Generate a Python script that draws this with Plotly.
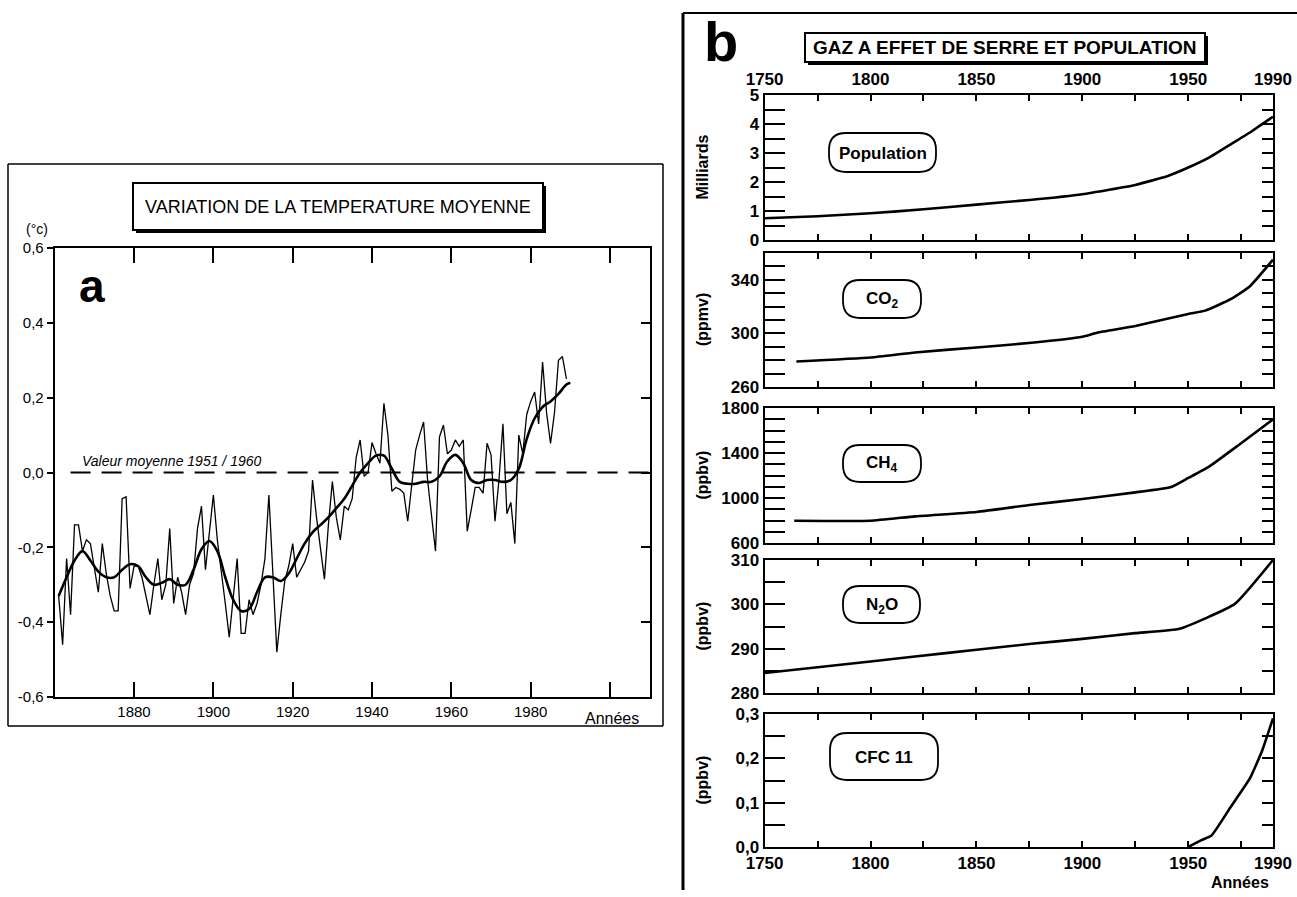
import plotly.graph_objects as go

# ---------------- DATA ----------------
# Panel a : global mean temperature anomaly (deg C), annual values
temp_years = list(range(1861, 1990))
temp_values = [
    -0.33, -0.46, -0.23, -0.38, -0.14, -0.14, -0.21, -0.18, -0.19, -0.26,   # 1861-1870
    -0.32, -0.19, -0.27, -0.33, -0.37, -0.37, -0.07, -0.065, -0.31, -0.25,  # 1871-1880
    -0.25, -0.28, -0.33, -0.38, -0.30, -0.23, -0.34, -0.30, -0.15, -0.35,   # 1881-1890
    -0.28, -0.32, -0.38, -0.30, -0.27, -0.15, -0.09, -0.26, -0.16, -0.06,   # 1891-1900
    -0.18, -0.26, -0.35, -0.44, -0.33, -0.23, -0.43, -0.43, -0.34, -0.38,   # 1901-1910
    -0.35, -0.30, -0.23, -0.06, -0.27, -0.48, -0.38, -0.29, -0.25, -0.19,   # 1911-1920
    -0.28, -0.26, -0.24, -0.21, -0.02, -0.12, -0.20, -0.285, -0.14, -0.024, # 1921-1930
    -0.12, -0.18, -0.09, -0.10, -0.07, 0.04, 0.087, -0.01, 0.0, 0.08,       # 1931-1940
    0.05, 0.025, 0.185, 0.10, -0.05, -0.04, -0.045, -0.055, -0.13, -0.04,   # 1941-1950
    0.06, 0.10, 0.135, -0.02, -0.12, -0.21, 0.095, 0.127, 0.05, 0.06,       # 1951-1960
    0.087, 0.07, 0.087, -0.157, -0.10, -0.04, -0.04, -0.055, 0.078, 0.047,  # 1961-1970
    -0.13, -0.02, 0.13, -0.11, -0.08, -0.19, 0.10, 0.05, 0.155, 0.19,       # 1971-1980
    0.215, 0.13, 0.295, 0.16, 0.078, 0.16, 0.30, 0.31, 0.25,                # 1981-1989
]
smooth_years = [1861, 1863, 1865, 1867, 1869, 1871, 1873, 1875, 1877, 1879,
                1881, 1883, 1885, 1887, 1889, 1891, 1893, 1895, 1897, 1899,
                1901, 1903, 1905, 1907, 1909, 1911, 1913, 1915, 1917, 1919,
                1921, 1923, 1925, 1927, 1929, 1931, 1933, 1935, 1937, 1939,
                1941, 1943, 1945, 1947, 1949, 1951, 1953, 1955, 1957, 1959,
                1961, 1963, 1965, 1967, 1969, 1971, 1973, 1975, 1977, 1979,
                1981, 1983, 1985, 1987, 1989, 1990]
smooth_values = [-0.33, -0.28, -0.235, -0.21, -0.235, -0.265, -0.28, -0.28, -0.26, -0.245,
                 -0.25, -0.28, -0.30, -0.295, -0.285, -0.30, -0.30, -0.26, -0.205, -0.183,
                 -0.21, -0.28, -0.34, -0.37, -0.365, -0.32, -0.28, -0.28, -0.29, -0.27,
                 -0.23, -0.19, -0.16, -0.14, -0.12, -0.095, -0.07, -0.035, 0.0, 0.025,
                 0.045, 0.045, 0.01, -0.025, -0.03, -0.03, -0.025, -0.025, -0.01, 0.03,
                 0.047, 0.025, -0.02, -0.028, -0.02, -0.02, -0.025, -0.02, 0.01, 0.09,
                 0.145, 0.175, 0.19, 0.21, 0.235, 0.24]
ref_years = [1864, 2010]
ref_values = [0.0, 0.0]

temp_ticks = [-0.6, -0.4, -0.2, 0.0, 0.2, 0.4, 0.6]
temp_ticktext = ["-0,6", "-0,4", "-0,2", "0,0", "0,2", "0,4", "0,6"]
temp_xticks = [1880, 1900, 1920, 1940, 1960, 1980]
temp_xticktext = ["1880", "1900", "1920", "1940", "1960", "1980"]
temp_xminor = [2000]

# Panel b : greenhouse gases and population
pop_years = [1750, 1775, 1800, 1825, 1850, 1875, 1900, 1925, 1940, 1950, 1960, 1970, 1980, 1990]
pop_values = [0.75, 0.82, 0.92, 1.06, 1.22, 1.38, 1.58, 1.90, 2.2, 2.5, 2.85, 3.3, 3.75, 4.25]
co2_years = [1765, 1800, 1821, 1850, 1876, 1900, 1907, 1925, 1950, 1958, 1970, 1979, 1990]
co2_values = [279, 282, 285.8, 289.5, 293, 297.5, 300.5, 305.5, 314.5, 317, 325.5, 335, 355]
ch4_years = [1764, 1800, 1821, 1850, 1876, 1900, 1925, 1942, 1950, 1960, 1974, 1990]
ch4_values = [798, 798, 837, 876, 940, 991, 1050, 1098, 1178, 1281, 1474, 1700]
n2o_years = [1750, 1800, 1821, 1850, 1876, 1900, 1925, 1946, 1972, 1990]
n2o_values = [284.5, 287.1, 288.25, 289.75, 291.1, 292.2, 293.5, 294.5, 300.1, 310]
cfc_years = [1950, 1956, 1961, 1970, 1979, 1985, 1990]
cfc_values = [0.0, 0.015, 0.026, 0.09, 0.154, 0.219, 0.29]

gas_xticks = [1750, 1800, 1850, 1900, 1950, 1990]
gas_xticktext = ["1750", "1800", "1850", "1900", "1950", "1990"]

# ---------------- LAYOUT HELPERS ----------------
W, H = 1297, 897
FONT = "Liberation Sans, Arial, sans-serif"


def X(x):
    return x / W


def Y(y):
    return 1 - y / H


fig = go.Figure()
shapes = []
annotations = []


def line(x0, y0, x1, y1, w=2):
    shapes.append(dict(type="line", xref="paper", yref="paper",
                       x0=X(x0), y0=Y(y0), x1=X(x1), y1=Y(y1),
                       line=dict(color="black", width=w)))


def text(x, y, s, size=15, bold=False, italic=False, angle=0, xanchor="center"):
    annotations.append(dict(xref="paper", yref="paper", x=X(x), y=Y(y), text=s,
                            showarrow=False, textangle=angle, xanchor=xanchor, yanchor="middle",
                            font=dict(family=FONT, size=size, color="black",
                                      weight="bold" if bold else "normal",
                                      style="italic" if italic else "normal")))


def shadow_box(x0, y0, x1, y1):
    shapes.append(dict(type="rect", xref="paper", yref="paper",
                       x0=X(x0 + 3), y0=Y(y1 + 3), x1=X(x1 + 3), y1=Y(y0 + 3),
                       fillcolor="black", line=dict(width=0)))
    shapes.append(dict(type="rect", xref="paper", yref="paper",
                       x0=X(x0), y0=Y(y1), x1=X(x1), y1=Y(y0),
                       fillcolor="white", line=dict(color="black", width=2)))


def round_box(x0, y0, x1, y1, r=16):
    pts = (f"M {X(x0 + r)},{Y(y0)} L {X(x1 - r)},{Y(y0)} Q {X(x1)},{Y(y0)} {X(x1)},{Y(y0 + r)} "
           f"L {X(x1)},{Y(y1 - r)} Q {X(x1)},{Y(y1)} {X(x1 - r)},{Y(y1)} "
           f"L {X(x0 + r)},{Y(y1)} Q {X(x0)},{Y(y1)} {X(x0)},{Y(y1 - r)} "
           f"L {X(x0)},{Y(y0 + r)} Q {X(x0)},{Y(y0)} {X(x0 + r)},{Y(y0)} Z")
    shapes.append(dict(type="path", xref="paper", yref="paper", path=pts,
                       fillcolor="white", line=dict(color="black", width=1.8)))


layout = dict(template="none", width=W, height=H,
              margin=dict(l=0, r=0, t=0, b=0, pad=0, autoexpand=False), autosize=False,
              paper_bgcolor="white", plot_bgcolor="rgba(0,0,0,0)", showlegend=False,
              font=dict(family=FONT, color="black"))

# ---------------- PANEL A ----------------
ax_x0, ax_x1 = 54.7, 649.7
ay_top, ay_bot = 248, 697
layout["xaxis"] = dict(domain=[X(ax_x0), X(ax_x1)], range=[1860, 2010], anchor="y",
                       tickmode="array", tickvals=temp_xticks, ticktext=temp_xticktext,
                       ticks="inside", ticklen=15, tickwidth=2, tickcolor="black",
                       minor=dict(tickmode="array", tickvals=temp_xminor, ticks="inside",
                                  ticklen=15, tickwidth=2, tickcolor="black", showgrid=False),
                       showline=True, linewidth=2, linecolor="black", mirror="ticks",
                       showgrid=False, zeroline=False, automargin=False,
                       tickfont=dict(size=15, family=FONT))
layout["yaxis"] = dict(domain=[Y(ay_bot), Y(ay_top)], range=[-0.6, 0.6], anchor="x",
                       tickmode="array", tickvals=temp_ticks, ticktext=temp_ticktext,
                       ticks="outside", ticklen=6, tickwidth=2, tickcolor="black",
                       showline=True, linewidth=2, linecolor="black", mirror=True,
                       showgrid=False, zeroline=False, automargin=False,
                       tickfont=dict(size=15, family=FONT))
layout["yaxis2"] = dict(overlaying="y", side="right", anchor="x", range=[-0.6, 0.6],
                        tickmode="array", tickvals=temp_ticks, ticks="inside", ticklen=9,
                        tickwidth=2, tickcolor="black", showticklabels=False,
                        showline=False, showgrid=False, zeroline=False, automargin=False)

fig.add_trace(go.Scatter(x=ref_years, y=ref_values, mode="lines", xaxis="x", yaxis="y",
                         line=dict(color="black", width=2, dash="20px,11px"), hoverinfo="skip"))
fig.add_trace(go.Scatter(x=temp_years, y=temp_values, mode="lines", xaxis="x", yaxis="y",
                         line=dict(color="black", width=1.3), hoverinfo="skip"))
fig.add_trace(go.Scatter(x=smooth_years, y=smooth_values, mode="lines", xaxis="x", yaxis="y",
                         line=dict(color="black", width=2.6, shape="spline", smoothing=1.0),
                         hoverinfo="skip"))
fig.add_trace(go.Scatter(x=[None], y=[None], xaxis="x", yaxis="y2", hoverinfo="skip"))

# frame of panel a
line(8, 164, 663, 164, 1.5)
line(8, 164, 8, 726, 1.5)
line(8, 726, 663, 726, 1.5)
line(663, 164, 663, 726, 1.5)
shadow_box(133, 183, 543, 230)
text(338, 207, "VARIATION DE LA TEMPERATURE MOYENNE", size=18)
text(37, 229, "(°c)", size=14)
text(92, 286, "a", size=46, bold=True)
text(80, 461, "Valeur moyenne 1951 / 1960", size=14, italic=True, xanchor="left")
text(612, 718, "Années", size=16)

# ---------------- PANEL B ----------------
bx0, bx1 = 764.6, 1273
panels = [
    ("Population", pop_years, pop_values, (95, 240), [0, 5], [0, 1, 2, 3, 4, 5],
     ["0", "1", "2", "3", "4", "5"], 0.5, "Milliards", (829, 133, 936, 172)),
    ("CO<sub>2</sub>", co2_years, co2_values, (253, 387), [260, 360], [260, 300, 340],
     ["260", "300", "340"], 10, "(ppmv)", (843, 280, 921, 318)),
    ("CH<sub>4</sub>", ch4_years, ch4_values, (408, 543), [600, 1800], [600, 1000, 1400, 1800],
     ["600", "1000", "1400", "1800"], 100, "(ppbv)", (843, 445, 921, 482)),
    ("N<sub>2</sub>O", n2o_years, n2o_values, (560, 693), [280, 310], [280, 290, 300, 310],
     ["280", "290", "300", "310"], 5, "(ppbv)", (843, 586, 920, 623)),
    ("CFC 11", cfc_years, cfc_values, (714, 847), [0, 0.3], [0, 0.1, 0.2, 0.3],
     ["0,0", "0,1", "0,2", "0,3"], 0.05, "(ppbv)", (830, 733, 938, 780)),
]

for i, (label, xs, ys, (ytop, ybot), yr, yt, ytt, ydt, ytitle, box) in enumerate(panels):
    xn = i + 2
    yn = i + 3
    yo = i + 8
    first = i == 0
    last = i == len(panels) - 1
    layout[f"xaxis{xn}"] = dict(
        domain=[X(bx0), X(bx1)], range=[1750, 1990], anchor=f"y{yn}",
        tickmode="array", tickvals=gas_xticks, ticktext=gas_xticktext, ticks="inside",
        ticklen=6, tickwidth=2, tickcolor="black",
        minor=dict(tick0=1750, dtick=25, ticks="inside", ticklen=6, tickwidth=2,
                   tickcolor="black", showgrid=False),
        showline=True, linewidth=2, linecolor="black", mirror="ticks", showgrid=False,
        zeroline=False, side="top" if first else "bottom", automargin=False,
        showticklabels=first or last, ticklabelstandoff=1 if first else 0,
        tickfont=dict(size=17, family=FONT, weight="bold"))
    layout[f"yaxis{yn}"] = dict(
        domain=[Y(ybot), Y(ytop)], range=yr, anchor=f"x{xn}",
        tickmode="array", tickvals=yt, ticktext=ytt, ticks="inside", ticklen=20, tickwidth=2,
        tickcolor="black",
        minor=dict(tick0=yr[0], dtick=ydt, ticks="inside", ticklen=20, tickwidth=2,
                   tickcolor="black", showgrid=False),
        showline=True, linewidth=2, linecolor="black", mirror=True, showgrid=False,
        zeroline=False, automargin=False,
        tickfont=dict(size=17, family=FONT, weight="bold"))
    layout[f"yaxis{yo}"] = dict(
        overlaying=f"y{yn}", side="right", anchor=f"x{xn}", range=yr,
        tickmode="array", tickvals=yt, ticks="inside", ticklen=11, tickwidth=2,
        tickcolor="black",
        minor=dict(tick0=yr[0], dtick=ydt, ticks="inside", ticklen=11, tickwidth=2,
                   tickcolor="black", showgrid=False),
        showticklabels=False, showline=False, showgrid=False, zeroline=False,
        automargin=False)
    fig.add_trace(go.Scatter(x=xs, y=ys, mode="lines", xaxis=f"x{xn}", yaxis=f"y{yn}",
                             line=dict(color="black", width=2.6, shape="spline", smoothing=0.4),
                             hoverinfo="skip"))
    fig.add_trace(go.Scatter(x=[None], y=[None], xaxis=f"x{xn}", yaxis=f"y{yo}",
                             hoverinfo="skip"))
    bx_0, by_0, bx_1, by_1 = box
    round_box(bx_0, by_0, bx_1, by_1, r=17)
    text((bx_0 + bx_1) / 2, (by_0 + by_1) / 2 + 1, label, size=17, bold=True)
    text(702, (ytop + ybot) / 2, ytitle, size=16, bold=True, angle=-90)

# frame of panel b
line(683, 13, 1297, 13, 2)
line(683, 13, 683, 890, 3)
shadow_box(805, 33, 1205, 62)
text(1005, 48, "GAZ A EFFET DE SERRE ET POPULATION", size=19, bold=True)
text(721, 42, "b", size=56, bold=True)
text(1240, 882, "Années", size=16, bold=True)

layout["shapes"] = shapes
layout["annotations"] = annotations
fig.update_layout(**layout)

fig.write_html("out.html", config={"displayModeBar": False},
               post_script="document.body.style.margin='0';document.body.style.overflow='hidden';")
